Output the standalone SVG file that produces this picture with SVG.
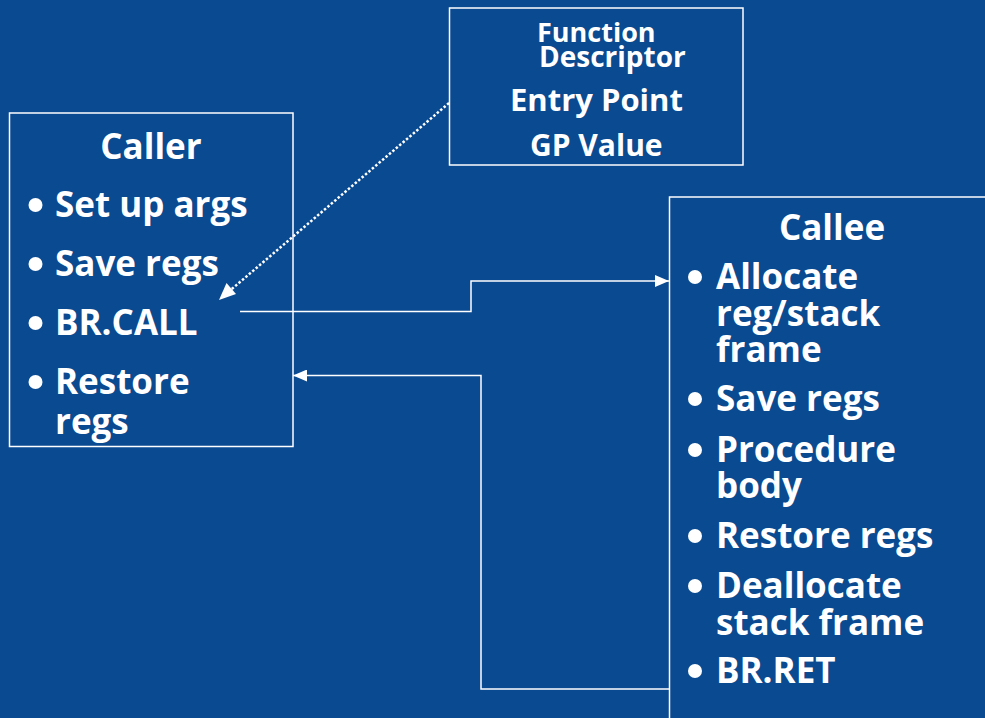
<svg xmlns="http://www.w3.org/2000/svg" width="985" height="718" viewBox="0 0 985 718">
  <defs>
    <style>
      .box { fill: none; stroke: #ffffff; stroke-width: 1.5; }
      .t { fill: #ffffff; font-family: "Open Sans", "Noto Sans", "Liberation Sans", sans-serif; font-weight: bold; }
      .big { font-size: 35px; }
      .ttl { font-size: 35px; text-anchor: middle; }
      .ep { font-size: 31px; }
      .gp { font-size: 30px; }
      .fn { font-size: 27px; }
      .ds { font-size: 28px; }
      .bul { fill: #ffffff; }
      .wire { fill: none; stroke: #ffffff; stroke-width: 1.5; }
      .dot { fill: none; stroke: #ffffff; stroke-width: 2.5; stroke-dasharray: 2.5 2; }
    </style>
    <marker id="arr" viewBox="0 0 14 12" refX="14" refY="6" markerWidth="14" markerHeight="12" markerUnits="userSpaceOnUse" orient="auto">
      <path d="M0,0 L14,6 L0,12 Z" fill="#ffffff"/>
    </marker>
  </defs>

  <rect x="0" y="0" width="985" height="718" fill="#0a4a91"/>

  <!-- Function descriptor -->
  <g id="descriptor">
    <rect class="box" x="449.5" y="8" width="293.5" height="157"/>
    <text class="t fn" x="537" y="42">Function</text>
    <text class="t ds" x="539" y="67">Descriptor</text>
    <text class="t ep" x="510" y="111">Entry Point</text>
    <text class="t gp" x="530" y="156">GP Value</text>
  </g>

  <!-- Caller -->
  <g id="caller">
    <rect class="box" x="9.5" y="113" width="283.5" height="333.5"/>
    <text class="t ttl" x="151" y="159">Caller</text>
    <circle class="bul" cx="35.5" cy="205" r="7"/>
    <text class="t big" x="55" y="217">Set up args</text>
    <circle class="bul" cx="35.5" cy="264" r="7"/>
    <text class="t big" x="55" y="276">Save regs</text>
    <circle class="bul" cx="35.5" cy="323" r="7"/>
    <text class="t big" x="55" y="335">BR.CALL</text>
    <circle class="bul" cx="35.5" cy="382" r="7"/>
    <text class="t big" x="55" y="394">Restore</text>
    <text class="t big" x="55" y="434">regs</text>
  </g>

  <!-- Callee -->
  <g id="callee">
    <rect class="box" x="669.5" y="197" width="330" height="540"/>
    <text class="t ttl" x="832" y="240">Callee</text>
    <circle class="bul" cx="695" cy="277" r="7"/>
    <text class="t big" x="716" y="289">Allocate</text>
    <text class="t big" x="716" y="326">reg/stack</text>
    <text class="t big" x="716" y="362">frame</text>
    <circle class="bul" cx="695" cy="399" r="7"/>
    <text class="t big" x="716" y="411">Save regs</text>
    <circle class="bul" cx="695" cy="450" r="7"/>
    <text class="t big" x="716" y="462">Procedure</text>
    <text class="t big" x="716" y="498">body</text>
    <circle class="bul" cx="695" cy="536" r="7"/>
    <text class="t big" x="716" y="548">Restore regs</text>
    <circle class="bul" cx="695" cy="586" r="7"/>
    <text class="t big" x="716" y="598">Deallocate</text>
    <text class="t big" x="716" y="635">stack frame</text>
    <circle class="bul" cx="695" cy="671" r="7"/>
    <text class="t big" x="716" y="683">BR.RET</text>
  </g>

  <!-- Connectors -->
  <g id="connectors">
    <polyline class="wire" points="240,311.5 471,311.5 471,281 669,281" marker-end="url(#arr)"/>
    <polyline class="wire" points="669,689 481,689 481,375.5 293,375.5" marker-end="url(#arr)"/>
    <line class="dot" x1="449" y1="103" x2="226" y2="294"/>
    <path d="M219,300 L226.5,283 L236,294 Z" fill="#ffffff"/>
  </g>
</svg>
